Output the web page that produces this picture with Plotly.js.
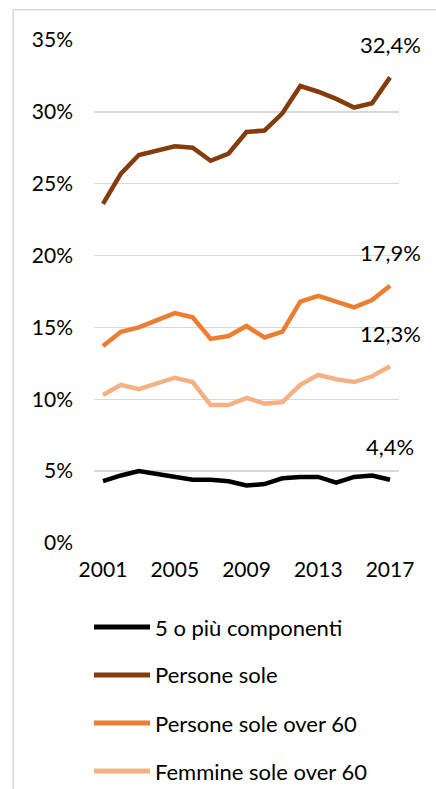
<!DOCTYPE html>
<html>
<head>
<meta charset="utf-8">
<script src="https://cdn.plot.ly/plotly-3.0.1.min.js"></script>
<style>html,body{margin:0;padding:0;background:#fff;}#chart{width:436px;height:789px;}</style>
</head>
<body>
<div id="chart"></div>
<script>
const years = [2001,2002,2003,2004,2005,2006,2007,2008,2009,2010,2011,2012,2013,2014,2015,2016,2017];
const cinqueOPiu = [4.3,4.7,5.0,4.8,4.6,4.4,4.4,4.3,4.0,4.1,4.5,4.6,4.6,4.2,4.6,4.7,4.4];
const personeSole = [23.6,25.7,27.0,27.3,27.6,27.5,26.6,27.1,28.6,28.7,29.9,31.8,31.4,30.9,30.3,30.6,32.4];
const personeSoleOver60 = [13.7,14.7,15.0,15.5,16.0,15.7,14.2,14.4,15.1,14.3,14.7,16.8,17.2,16.8,16.4,16.9,17.9];
const femmineSoleOver60 = [10.3,11.0,10.7,11.1,11.5,11.2,9.6,9.6,10.1,9.7,9.8,11.0,11.7,11.4,11.2,11.6,12.3];
const seriesNames = ['5 o più componenti','Persone sole','Persone sole over 60','Femmine sole over 60'];
const seriesColors = ['#000000','#843C0C','#ED7D31','#F4B183'];
const seriesData = [cinqueOPiu, personeSole, personeSoleOver60, femmineSoleOver60];
const endLabels = ['4,4%','32,4%','17,9%','12,3%'];

const FONT = 'Lato, "Open Sans", sans-serif';

const traces = seriesData.map((d,i)=>({
  x: years, y: d.map(v=>v/100), type:'scatter', mode:'lines',
  name: seriesNames[i], showlegend:false,
  line:{color: seriesColors[i], width:4.5},
  hoverinfo:'skip'
}));

const annotations = seriesData.map((d,i)=>({
  x: years[years.length-1], y: d[d.length-1]/100, xref:'x', yref:'y',
  text: endLabels[i], showarrow:false, yanchor:'middle', yshift:33,
  font:{family:FONT, size:22, color:'#000'}
}));

// manual legend (paper coordinates), one row per series
const legendY = [-0.167, -0.2624, -0.3579, -0.4533];
const shapes = [
  {type:'line', xref:'paper', yref:'paper', x0:-0.265, x1:-0.265, y0:1.06, y1:-0.6, line:{color:'#d9d9d9', width:1.5}},
  {type:'line', xref:'paper', yref:'paper', x0:-0.265, x1:1.2, y0:1.06, y1:1.06, line:{color:'#d9d9d9', width:1.5}}
];
seriesNames.forEach((n,i)=>{
  shapes.push({type:'line', xref:'paper', yref:'paper', x0:0.0, x1:0.1836, y0:legendY[i], y1:legendY[i],
    line:{color:seriesColors[i], width:5}});
  annotations.push({xref:'paper', yref:'paper', x:0.1934, y:legendY[i], xanchor:'left', yanchor:'middle',
    text:n, showarrow:false, font:{family:FONT, size:22, color:'#000'}});
});

const layout = {
  width:436, height:789,
  margin:{l:94, r:37, t:40, b:246},
  paper_bgcolor:'#fff', plot_bgcolor:'#fff',
  font:{family:FONT, size:21, color:'#000'},
  showlegend:false,
  xaxis:{range:[2000.5,2017.5], tickmode:'linear', tick0:2001, dtick:4,
    showgrid:false, zeroline:false, showline:false, ticks:'',
    ticklabelstandoff:12, tickfont:{family:FONT, size:21, color:'#000'}, fixedrange:true},
  yaxis:{range:[0,0.35], tickmode:'linear', tick0:0, dtick:0.05, tickformat:'.0%',
    showgrid:true, gridcolor:'#d9d9d9', gridwidth:1.5, zeroline:false, showline:false, ticks:'',
    ticklabelstandoff:20, tickfont:{family:FONT, size:21, color:'#000'}, fixedrange:true},
  annotations: annotations,
  shapes: shapes
};

Plotly.newPlot('chart', traces, layout, {displayModeBar:false, staticPlot:true});
</script>
</body>
</html>
